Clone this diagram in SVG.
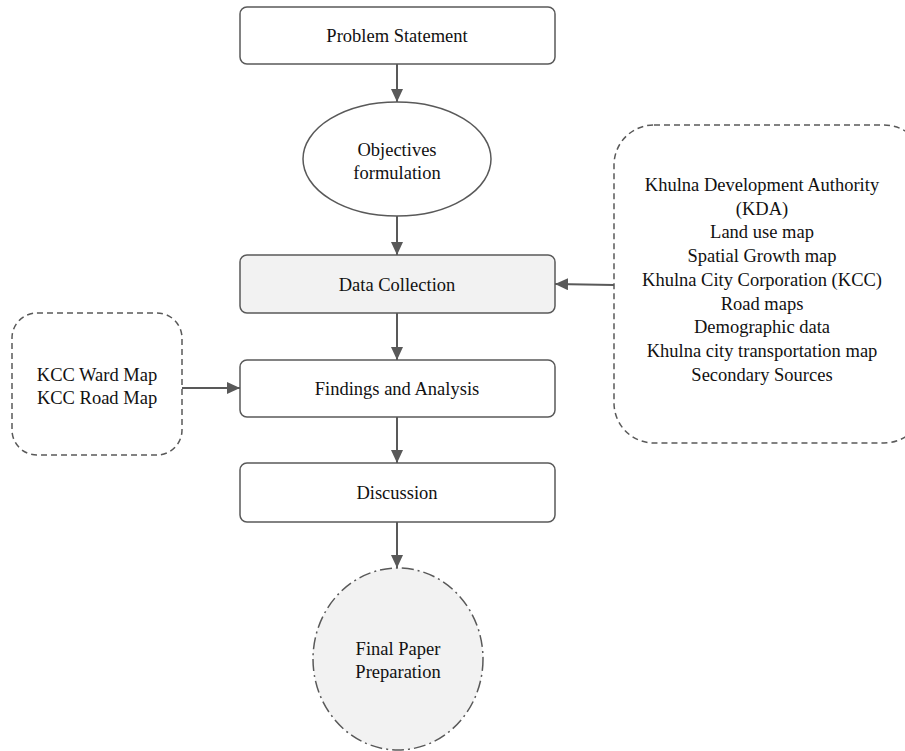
<svg xmlns="http://www.w3.org/2000/svg" width="905" height="751" viewBox="0 0 905 751">
<defs>
<style>
.box{fill:#ffffff;stroke:#595959;stroke-width:1.5}
.grey{fill:#f2f2f2}
.dash{fill:#ffffff;stroke:#595959;stroke-width:1.5;stroke-dasharray:6 4}
.dashdot{fill:#f2f2f2;stroke:#595959;stroke-width:1.5;stroke-dasharray:12 4 2 4}
.t{font-family:"Liberation Serif","Times New Roman",serif;font-size:18.5px;fill:#111111;text-anchor:middle}
.c{stroke:#595959;stroke-width:2;fill:none;marker-end:url(#ah)}
</style>
<marker id="ah" viewBox="0 0 10 10" refX="10" refY="5" markerWidth="6.5" markerHeight="6" markerUnits="strokeWidth" orient="auto" preserveAspectRatio="none">
<path d="M0,0 L10,5 L0,10 z" fill="#595959"/>
</marker>
</defs>
<rect width="905" height="751" fill="#ffffff"/>
<g id="connectors">
<line class="c" x1="397" y1="64" x2="397" y2="102"/>
<line class="c" x1="397" y1="216" x2="397" y2="255"/>
<line class="c" x1="397" y1="313" x2="397" y2="360"/>
<line class="c" x1="397" y1="417" x2="397" y2="463"/>
<line class="c" x1="397" y1="522" x2="397" y2="568"/>
<line class="c" x1="614" y1="285" x2="555" y2="284"/>
<line class="c" x1="182" y1="388" x2="240" y2="388"/>
</g>
<g id="problem">
<rect class="box" x="240" y="7" width="315" height="57" rx="7"/>
<text class="t" x="397" y="42">Problem Statement</text>
</g>
<g id="objectives">
<ellipse class="box" cx="397" cy="159" rx="94" ry="57"/>
<text class="t" x="397" y="156">Objectives</text>
<text class="t" x="397" y="179">formulation</text>
</g>
<g id="data">
<rect class="box grey" x="240" y="255" width="315" height="58" rx="7"/>
<text class="t" x="397" y="291">Data Collection</text>
</g>
<g id="findings">
<rect class="box" x="240" y="360" width="315" height="57" rx="7"/>
<text class="t" x="397" y="395">Findings and Analysis</text>
</g>
<g id="discussion">
<rect class="box" x="240" y="463" width="315" height="59" rx="7"/>
<text class="t" x="397" y="499">Discussion</text>
</g>
<g id="final">
<ellipse class="dashdot" cx="398" cy="659" rx="85" ry="91"/>
<text class="t" x="398" y="655">Final Paper</text>
<text class="t" x="398" y="678">Preparation</text>
</g>
<g id="sources">
<rect class="dash" x="614" y="125" width="310" height="318" rx="40"/>
<text class="t" x="762" y="191">Khulna Development Authority</text>
<text class="t" x="762" y="215">(KDA)</text>
<text class="t" x="762" y="238">Land use map</text>
<text class="t" x="762" y="262">Spatial Growth map</text>
<text class="t" x="762" y="286">Khulna City Corporation (KCC)</text>
<text class="t" x="762" y="310">Road maps</text>
<text class="t" x="762" y="333">Demographic data</text>
<text class="t" x="762" y="357">Khulna city transportation map</text>
<text class="t" x="762" y="381">Secondary Sources</text>
</g>
<g id="kcc">
<rect class="dash" x="12" y="313" width="170" height="142" rx="25"/>
<text class="t" x="97" y="381">KCC Ward Map</text>
<text class="t" x="97" y="404">KCC Road Map</text>
</g>
</svg>
